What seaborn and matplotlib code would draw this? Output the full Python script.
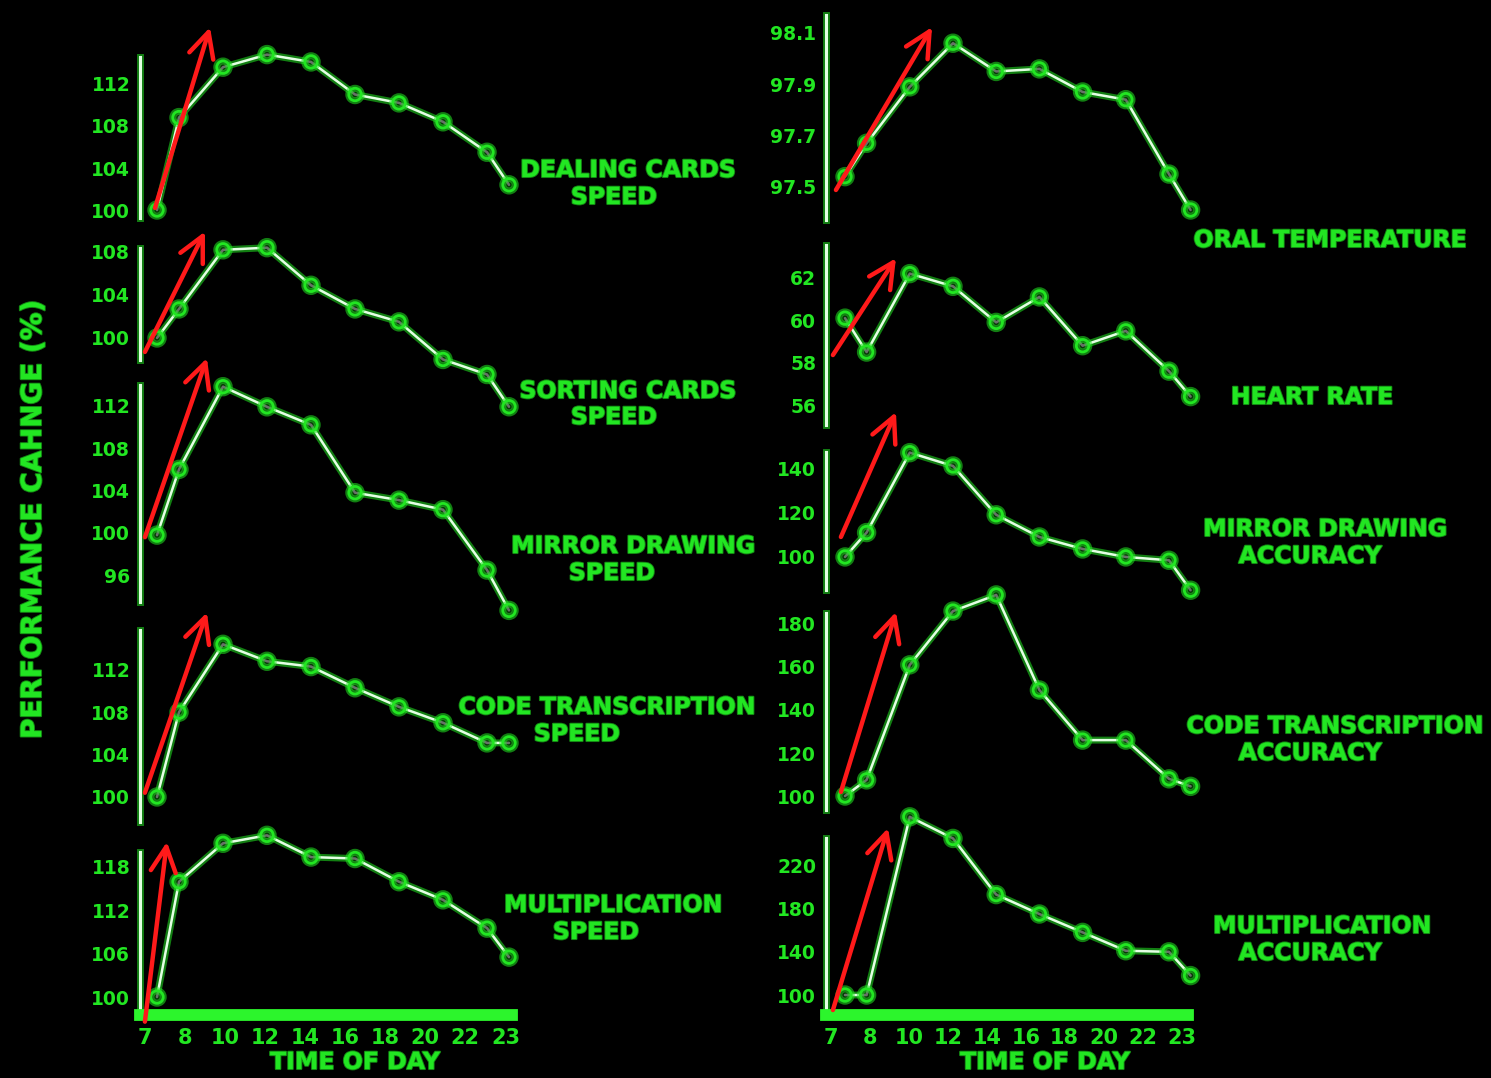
import matplotlib
matplotlib.use('Agg')
import matplotlib.pyplot as plt
import matplotlib.patheffects as pe
import numpy as np
import pandas as pd
import seaborn as sns

# ---- data ----
hours = [7, 8, 10, 12, 14, 16, 18, 20, 22, 23]
hour_labels = ['7', '8', '10', '12', '14', '16', '18', '20', '22', '23']

dealing_speed = [100.0, 108.8, 113.6, 114.8, 114.1, 111.0, 110.2, 108.4, 105.5, 102.4]
sorting_speed = [100.0, 102.7, 108.2, 108.4, 104.9, 102.7, 101.5, 98.0, 96.6, 93.6]
mirror_speed = [99.8, 106.0, 113.8, 111.9, 110.2, 103.8, 103.1, 102.2, 96.5, 92.7]
code_speed = [100.0, 108.0, 114.4, 112.8, 112.3, 110.3, 108.5, 107.0, 105.1, 105.1]
mult_speed = [100.0, 115.9, 121.2, 122.3, 119.3, 119.1, 115.9, 113.4, 109.5, 105.5]

oral_temp = [97.54, 97.67, 97.89, 98.06, 97.95, 97.96, 97.87, 97.84, 97.55, 97.41]
heart_rate = [60.1, 58.5, 62.2, 61.6, 59.9, 61.1, 58.8, 59.5, 57.6, 56.4]
mirror_acc = [100.0, 111.0, 147.0, 141.0, 119.0, 109.0, 103.6, 100.0, 98.5, 85.0]
code_acc = [100.0, 107.5, 161.0, 186.0, 193.5, 149.3, 126.0, 126.0, 108.0, 104.5]
mult_acc = [100.0, 100.0, 265.0, 245.0, 193.0, 175.0, 158.0, 141.0, 140.0, 118.0]

left_names = [('DEALING CARDS', 'SPEED'), ('SORTING CARDS', 'SPEED'),
              ('MIRROR DRAWING', 'SPEED'), ('CODE TRANSCRIPTION', 'SPEED'),
              ('MULTIPLICATION', 'SPEED')]
right_names = [('ORAL TEMPERATURE',), ('HEART RATE',),
               ('MIRROR DRAWING', 'ACCURACY'), ('CODE TRANSCRIPTION', 'ACCURACY'),
               ('MULTIPLICATION', 'ACCURACY')]

left_yticks = [[100, 104, 108, 112], [100, 104, 108], [96, 100, 104, 108, 112],
               [100, 104, 108, 112], [100, 106, 112, 118]]
right_yticks = [[97.5, 97.7, 97.9, 98.1], [56, 58, 60, 62], [100, 120, 140],
                [100, 120, 140, 160, 180], [100, 140, 180, 220]]

# ---- layout (pixels in the 1491x1078 canvas) ----
W, H = 1491, 1078
GREEN = '#22e622'
CORE = '#e4ffe4'
RED = '#ff1a1a'

left_x = (140, 512, (6.227, 23.136))
right_x = (826, 1188, (6.12, 22.88))
left_rows = [(57, 218), (248, 360), (385, 602), (630, 822), (852, 1015)]
right_rows = [(15, 220), (245, 425), (452, 590), (613, 810), (838, 1015)]
left_ylims = [(99.24, 114.57), (97.95, 108.37), (93.49, 113.96), (97.64, 115.75), (97.52, 120.0)]
right_ylims = [(97.371, 98.17), (55.06, 63.55), (85.1, 147.3), (93.5, 185.1), (81.5, 245.4)]

# red arrows: (tail, head) in each panel's data coords
left_arrows = [((6.91, 100.2), (9.41, 117.4)), ((6.45, 98.7), (9.18, 109.9)),
               ((6.45, 99.6), (9.27, 116.5)), ((6.45, 100.4), (9.27, 117.4)),
               ((6.45, 96.6), (7.45, 121.4))]
right_arrows = [((6.58, 97.488), (11.03, 98.123)), ((6.44, 58.36), (9.36, 62.93)),
                ((6.81, 109.0), (9.36, 165.3)), ((6.81, 101.9), (9.36, 185.6)),
                ((6.44, 86.1), (8.99, 254.6))]

left_label_pos = [[(628, 170), (614, 197)], [(628, 391), (614, 417)],
                  [(633, 546), (612, 573)], [(607, 707), (577, 734)],
                  [(613, 905), (596, 932)]]
right_label_pos = [[(1330, 240)], [(1312, 397)], [(1325, 529), (1310, 556)],
                   [(1335, 726), (1310, 753)], [(1322, 926), (1310, 953)]]

plt.style.use('dark_background')
sns.set_style('dark', {'axes.facecolor': 'black', 'figure.facecolor': 'black'})
plt.rcParams['font.family'] = ['DejaVu Sans']
plt.rcParams['font.weight'] = 'bold'

glow = [pe.Stroke(linewidth=5, foreground=GREEN, alpha=0.55), pe.Normal()]
text_glow = [pe.Stroke(linewidth=1.5, foreground=GREEN, alpha=0.6), pe.Normal()]

fig = plt.figure(figsize=(W / 100, H / 100), dpi=100, facecolor='black')


def px_box(l, r, t, b):
    return [l / W, 1 - b / H, (r - l) / W, (b - t) / H]


def fig_text(x, y, s, **kw):
    return fig.text(x / W, 1 - y / H, s, color=GREEN, fontweight='bold',
                    ha='center', va='center', path_effects=text_glow, **kw)


def draw_column(series, names, yticks, rows, ylims, arrows, label_pos, xcfg, fmt):
    l, r, xlim = xcfg
    axes = []
    for i, vals in enumerate(series):
        t, b = rows[i]
        ax = fig.add_axes(px_box(l, r, t, b))
        ax.patch.set_alpha(0)
        df = pd.DataFrame({'hour': hours, 'value': vals})
        sns.lineplot(data=df, x='hour', y='value', ax=ax, color=CORE, lw=1.8,
                     marker='o', markersize=9, mfc='none', mec=GREEN, mew=2,
                     clip_on=False, path_effects=glow, zorder=3)
        ax.set(xlabel='', ylabel='')
        ax.set_xlim(*xlim)
        ax.set_ylim(*ylims[i])
        ax.set_yticks(yticks[i])
        ax.set_yticklabels([fmt(v) for v in yticks[i]])
        ax.tick_params(axis='y', length=4, width=2.5, color=CORE, labelcolor=GREEN,
                       labelsize=13.5, pad=3)
        for s in ('top', 'right', 'bottom'):
            ax.spines[s].set_visible(False)
        ax.spines['left'].set_color(CORE)
        ax.spines['left'].set_linewidth(2.2)
        ax.spines['left'].set_path_effects(glow)
        ax.grid(False)
        if i == len(series) - 1:
            ax.spines['bottom'].set_visible(True)
            ax.spines['bottom'].set_color('#2cf52c')
            ax.spines['bottom'].set_linewidth(8.5)
            ax.set_xticks(np.linspace(xlim[0] + 0.23, xlim[1] - 0.3, len(hour_labels)))
            ax.set_xticklabels(hour_labels)
            ax.tick_params(axis='x', length=0, labelcolor=GREEN, labelsize=15, pad=9)
        else:
            ax.set_xticks([])
        tail, head = arrows[i]
        ax.annotate('', xy=head, xytext=tail, annotation_clip=False,
                    arrowprops=dict(arrowstyle='->,head_length=0.9,head_width=0.45',
                                    color=RED, lw=3.2, shrinkA=0, shrinkB=0,
                                    mutation_scale=20), zorder=5)
        for line, (x, y) in zip(names[i], label_pos[i]):
            fig_text(x, y, line, fontsize=17)
        axes.append(ax)
    return axes


draw_column([dealing_speed, sorting_speed, mirror_speed, code_speed, mult_speed],
            left_names, left_yticks, left_rows, left_ylims, left_arrows,
            left_label_pos, left_x, lambda v: f'{v:d}')
draw_column([oral_temp, heart_rate, mirror_acc, code_acc, mult_acc],
            right_names, right_yticks, right_rows, right_ylims, right_arrows,
            right_label_pos, right_x, lambda v: f'{v:g}')

fig_text(355, 1062, 'TIME OF DAY', fontsize=17)
fig_text(1045, 1062, 'TIME OF DAY', fontsize=17)
fig_text(33, 520, 'PERFORMANCE CAHNGE (%)', fontsize=20, rotation=90)

fig.savefig('out.png', dpi=100, facecolor='black')
